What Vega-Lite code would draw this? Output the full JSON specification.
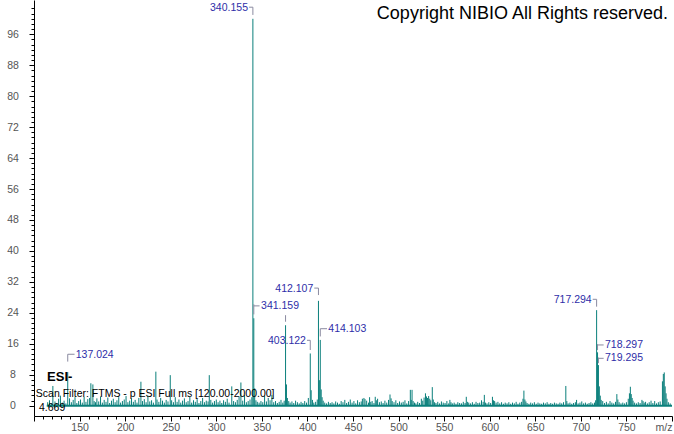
{
"$schema":"https://vega.github.io/schema/vega-lite/v6.json",
"width":638,"height":416,
"autosize":"none",
"padding":{"left":34,"top":0,"right":2,"bottom":18},
"config":{"view":{"stroke":null},"font":"Liberation Sans","axis":{"domainColor":"#000","tickColor":"#000","grid":false}},
"datasets":{
"spec":[
{"m":115,"v":0.9},{"m":117,"v":1.4},{"m":119,"v":0.6},{"m":120.7,"v":5.1},{"m":123,"v":1.1},{"m":125,"v":0.7},{"m":127,"v":1.8},{"m":129,"v":2.6},{"m":131,"v":0.8},{"m":133,"v":1.3},{"m":135,"v":0.6},{"m":137.024,"v":8.7},{"m":139,"v":1.9},{"m":141,"v":0.9},{"m":143,"v":1.5},{"m":145,"v":2.2},{"m":147,"v":0.7},{"m":149,"v":1.2},{"m":151,"v":1.6},{"m":153,"v":0.8},{"m":155,"v":2.3},{"m":157,"v":1.0},{"m":159,"v":1.7},{"m":161,"v":2.0},{"m":162.4,"v":5.8},{"m":164.6,"v":5.5},{"m":166,"v":1.2},{"m":167.5,"v":0.9},{"m":169,"v":1.9},{"m":171,"v":1.1},{"m":173,"v":2.4},{"m":175,"v":0.8},{"m":177,"v":1.5},{"m":179,"v":1.0},{"m":181,"v":2.1},{"m":183,"v":0.7},{"m":185,"v":1.3},{"m":187,"v":1.8},{"m":189,"v":0.9},{"m":191,"v":1.4},{"m":193,"v":2.2},{"m":195,"v":0.8},{"m":197,"v":1.2},{"m":199,"v":1.6},{"m":201,"v":2.5},{"m":203,"v":0.9},{"m":205,"v":1.3},{"m":207,"v":1.9},{"m":209,"v":1.0},{"m":211,"v":1.5},{"m":213,"v":0.8},{"m":215,"v":2.0},{"m":217.3,"v":6.2},{"m":219,"v":1.2},{"m":221,"v":1.7},{"m":223,"v":0.9},{"m":225,"v":2.6},{"m":227,"v":1.1},{"m":229,"v":1.4},{"m":231,"v":0.8},{"m":233.7,"v":8.8},{"m":235,"v":1.6},{"m":237,"v":1.0},{"m":239,"v":2.0},{"m":241,"v":1.3},{"m":243,"v":0.8},{"m":245,"v":1.5},{"m":247,"v":1.1},{"m":249.5,"v":7.9},{"m":251,"v":1.4},{"m":253,"v":0.9},{"m":255,"v":2.2},{"m":257,"v":1.0},{"m":259,"v":1.6},{"m":261,"v":0.8},{"m":263,"v":1.3},{"m":265,"v":1.9},{"m":267,"v":0.9},{"m":269,"v":1.2},{"m":271,"v":2.3},{"m":273,"v":0.8},{"m":275,"v":1.4},{"m":277,"v":1.0},{"m":279,"v":1.7},{"m":281,"v":0.7},{"m":283,"v":1.2},{"m":285,"v":2.0},{"m":287,"v":0.9},{"m":289,"v":1.3},{"m":291,"v":1.1},{"m":292.3,"v":7.9},{"m":294,"v":1.5},{"m":296,"v":0.8},{"m":298,"v":1.2},{"m":300,"v":1.6},{"m":302,"v":0.9},{"m":304,"v":1.3},{"m":306,"v":0.7},{"m":308,"v":1.4},{"m":310,"v":1.0},{"m":312,"v":1.8},{"m":314,"v":0.8},{"m":317,"v":5.0},{"m":319,"v":1.2},{"m":321,"v":0.9},{"m":323,"v":1.5},{"m":325,"v":2.4},{"m":327,"v":6.0},{"m":329,"v":1.3},{"m":331,"v":2.8},{"m":333,"v":0.9},{"m":335,"v":1.2},{"m":337,"v":1.6},{"m":339,"v":2.2},{"m":340.155,"v":100},{"m":341.159,"v":22.6},{"m":342.16,"v":4.5},{"m":343.5,"v":1.4},{"m":345,"v":1.0},{"m":347,"v":0.8},{"m":349,"v":1.2},{"m":351,"v":0.9},{"m":353,"v":2.6},{"m":355,"v":1.1},{"m":357,"v":2.0},{"m":359,"v":1.4},{"m":361,"v":2.8},{"m":363,"v":0.9},{"m":365,"v":1.2},{"m":367,"v":0.7},{"m":369,"v":1.0},{"m":371,"v":1.5},{"m":373,"v":0.8},{"m":374.5,"v":1.3},{"m":376.0,"v":20.8},{"m":377.0,"v":5.5},{"m":378,"v":2.0},{"m":379.5,"v":1.2},{"m":381,"v":0.8},{"m":383,"v":1.1},{"m":385,"v":0.7},{"m":387,"v":1.3},{"m":389,"v":0.9},{"m":391,"v":0.6},{"m":393,"v":1.0},{"m":395,"v":0.7},{"m":397,"v":1.2},{"m":399,"v":0.8},{"m":401,"v":2.0},{"m":403.122,"v":13.5},{"m":404.1,"v":4.0},{"m":405.5,"v":1.5},{"m":407,"v":0.8},{"m":409,"v":1.0},{"m":410.8,"v":1.6},{"m":412.107,"v":27.1},{"m":413.1,"v":6.6},{"m":414.103,"v":17.0},{"m":415.1,"v":4.2},{"m":416.1,"v":2.2},{"m":417.3,"v":1.3},{"m":419,"v":0.8},{"m":421,"v":0.6},{"m":423,"v":1.0},{"m":425,"v":0.7},{"m":427,"v":0.9},{"m":429,"v":0.6},{"m":431,"v":1.1},{"m":433,"v":0.8},{"m":435,"v":0.5},{"m":437,"v":1.2},{"m":439,"v":0.9},{"m":441,"v":1.5},{"m":443,"v":0.7},{"m":445,"v":1.0},{"m":447,"v":1.6},{"m":449,"v":0.8},{"m":451,"v":1.2},{"m":453,"v":0.6},{"m":455,"v":1.4},{"m":457,"v":0.9},{"m":459,"v":1.1},{"m":460.3,"v":1.8},{"m":462,"v":2.0},{"m":463.2,"v":1.7},{"m":465,"v":1.3},{"m":467,"v":0.8},{"m":468.2,"v":2.2},{"m":469.5,"v":1.0},{"m":471,"v":1.2},{"m":473,"v":0.7},{"m":474.4,"v":2.3},{"m":475.6,"v":1.4},{"m":477,"v":1.8},{"m":479,"v":0.9},{"m":481,"v":1.1},{"m":483,"v":0.7},{"m":485,"v":1.3},{"m":487,"v":0.8},{"m":489,"v":1.5},{"m":490.6,"v":2.9},{"m":491.8,"v":1.9},{"m":493,"v":1.2},{"m":495,"v":0.9},{"m":497,"v":1.4},{"m":499,"v":0.7},{"m":501,"v":1.1},{"m":503,"v":0.8},{"m":505,"v":1.0},{"m":507,"v":1.4},{"m":509,"v":0.6},{"m":511,"v":1.2},{"m":512.9,"v":4.1},{"m":513.9,"v":1.5},{"m":514.8,"v":4.1},{"m":516,"v":1.2},{"m":517.5,"v":0.8},{"m":519,"v":0.6},{"m":521,"v":1.0},{"m":523,"v":0.7},{"m":525,"v":1.8},{"m":526.5,"v":1.3},{"m":528,"v":2.1},{"m":529.5,"v":3.2},{"m":530.6,"v":2.4},{"m":531.7,"v":2.0},{"m":533,"v":2.5},{"m":534.2,"v":1.8},{"m":535.3,"v":1.4},{"m":537,"v":4.8},{"m":538.1,"v":1.6},{"m":539.5,"v":0.9},{"m":541,"v":0.7},{"m":543,"v":1.0},{"m":545,"v":0.6},{"m":547,"v":1.1},{"m":549,"v":0.8},{"m":551,"v":0.7},{"m":553,"v":1.2},{"m":555,"v":0.6},{"m":556.3,"v":1.5},{"m":557.5,"v":0.9},{"m":559,"v":0.6},{"m":561,"v":0.8},{"m":563,"v":0.5},{"m":565,"v":0.9},{"m":567,"v":0.7},{"m":569,"v":0.6},{"m":571,"v":1.0},{"m":573,"v":0.7},{"m":574.3,"v":2.3},{"m":575.5,"v":1.0},{"m":577,"v":0.8},{"m":579,"v":0.6},{"m":581,"v":0.9},{"m":583,"v":0.5},{"m":585,"v":1.0},{"m":587,"v":0.7},{"m":589,"v":0.8},{"m":591,"v":1.4},{"m":592.8,"v":1.0},{"m":594.1,"v":2.8},{"m":595.3,"v":0.8},{"m":597,"v":0.6},{"m":599,"v":0.9},{"m":601,"v":0.7},{"m":603,"v":2.3},{"m":604.2,"v":1.4},{"m":605.4,"v":1.2},{"m":607,"v":0.8},{"m":609,"v":1.0},{"m":611,"v":0.6},{"m":613,"v":0.9},{"m":615,"v":0.5},{"m":617,"v":0.8},{"m":619,"v":0.6},{"m":621,"v":0.9},{"m":623,"v":0.5},{"m":625,"v":0.8},{"m":627,"v":0.6},{"m":629,"v":1.0},{"m":631,"v":0.5},{"m":633,"v":0.8},{"m":635,"v":1.0},{"m":636.5,"v":1.8},{"m":637.5,"v":3.9},{"m":638.6,"v":1.6},{"m":639.7,"v":1.1},{"m":641,"v":0.7},{"m":643,"v":0.5},{"m":645,"v":0.8},{"m":647,"v":0.6},{"m":649,"v":0.9},{"m":651,"v":0.5},{"m":653,"v":0.8},{"m":655,"v":0.6},{"m":657,"v":0.5},{"m":659,"v":0.8},{"m":661,"v":0.6},{"m":663,"v":0.9},{"m":665,"v":0.5},{"m":667,"v":0.7},{"m":669,"v":0.5},{"m":671,"v":0.8},{"m":673,"v":0.6},{"m":675,"v":0.5},{"m":677,"v":0.8},{"m":679,"v":0.6},{"m":681,"v":0.9},{"m":683.5,"v":5.1},{"m":684.6,"v":1.2},{"m":686,"v":0.6},{"m":688,"v":0.8},{"m":690,"v":0.5},{"m":692,"v":0.7},{"m":694,"v":0.9},{"m":695.3,"v":1.5},{"m":697,"v":0.6},{"m":699,"v":0.8},{"m":701,"v":1.1},{"m":703,"v":0.6},{"m":705,"v":0.8},{"m":707,"v":0.5},{"m":709,"v":0.7},{"m":711,"v":0.9},{"m":713,"v":0.6},{"m":715,"v":0.8},{"m":716.2,"v":1.4},{"m":717.294,"v":24.7},{"m":718.297,"v":13.8},{"m":719.295,"v":10.5},{"m":720.3,"v":5.0},{"m":721.3,"v":2.6},{"m":722.3,"v":1.5},{"m":724,"v":1.2},{"m":726,"v":0.7},{"m":728,"v":1.0},{"m":730,"v":0.6},{"m":732,"v":1.2},{"m":734,"v":0.8},{"m":736,"v":0.6},{"m":738,"v":1.0},{"m":739.5,"v":3.0},{"m":740.6,"v":1.6},{"m":742,"v":0.9},{"m":744,"v":0.6},{"m":746,"v":0.8},{"m":748,"v":0.6},{"m":750,"v":0.9},{"m":752,"v":1.8},{"m":753.3,"v":3.2},{"m":754.3,"v":4.9},{"m":755.3,"v":3.0},{"m":756.3,"v":2.0},{"m":757.3,"v":1.3},{"m":759,"v":0.8},{"m":761,"v":0.6},{"m":763,"v":0.9},{"m":765,"v":0.7},{"m":767,"v":1.5},{"m":768.2,"v":1.2},{"m":769.5,"v":0.8},{"m":771,"v":1.0},{"m":773,"v":0.6},{"m":775,"v":0.9},{"m":777,"v":1.3},{"m":779,"v":0.7},{"m":781,"v":1.2},{"m":783,"v":0.6},{"m":785,"v":0.9},{"m":787,"v":1.1},{"m":789.5,"v":6.3},{"m":790.5,"v":8.2},{"m":791.5,"v":8.6},{"m":792.5,"v":5.0},{"m":793.5,"v":3.2},{"m":794.5,"v":1.8},{"m":796,"v":0.9},{"m":798,"v":0.6}
],
"texts":[
{"label":"340.155","m":334.8,"v":102.9,"side":"r"},
{"label":"341.159","m":349.1,"v":25.8,"side":"l"},
{"label":"403.122","m":398.4,"v":16.7,"side":"r"},
{"label":"412.107","m":406.4,"v":30.2,"side":"r"},
{"label":"414.103","m":422.9,"v":19.7,"side":"l"},
{"label":"137.024","m":145.8,"v":13.1,"side":"l"},
{"label":"717.294","m":711.9,"v":27.3,"side":"r"},
{"label":"718.297","m":726.5,"v":15.7,"side":"l"},
{"label":"719.295","m":726.5,"v":12.25,"side":"l"}
],
"hbr":[
{"m":340.155,"m2":336.0,"v":103.0},
{"m":341.159,"m2":347.5,"v":25.8},
{"m":403.122,"m2":399.5,"v":16.9},
{"m":412.107,"m2":407.5,"v":30.4},
{"m":414.103,"m2":421.5,"v":19.9},
{"m":137.024,"m2":144.5,"v":13.3},
{"m":717.294,"m2":713.0,"v":27.5},
{"m":718.297,"m2":725.0,"v":15.7},
{"m":719.295,"m2":725.0,"v":12.25}
],
"vbr":[
{"m":340.155,"v":103.0,"v2":101.0},
{"m":341.159,"v":26.2,"v2":23.6},
{"m":376.0,"v":23.4,"v2":21.7},
{"m":403.122,"v":16.9,"v2":14.4},
{"m":412.107,"v":30.4,"v2":28.6},
{"m":414.103,"v":19.9,"v2":17.9},
{"m":137.024,"v":13.3,"v2":11.4},
{"m":717.294,"v":27.5,"v2":25.6},
{"m":718.297,"v":15.9,"v2":14.4},
{"m":719.295,"v":12.45,"v2":11.0}
],
"notes":[
{"kind":"copy","text":"Copyright NIBIO All Rights reserved.","m":795.6,"v":101.2},
{"kind":"esi","text":"ESI-","m":114.3,"v":7.5},
{"kind":"small","text":"Scan Filter: FTMS - p ESI Full ms [120.00-2000.00]","m":102,"v":3.0},
{"kind":"small","text":"4.669","m":105.5,"v":-0.7}
],
"base":[{"m":114,"m2":800,"v":0}]
},
"encoding":{
  "x":{"field":"m","type":"quantitative","scale":{"domain":[100,800],"nice":false,"zero":false},
   "axis":{"title":null,"values":[100,110,120,130,140,150,160,170,180,190,200,210,220,230,240,250,260,270,280,290,300,310,320,330,340,350,360,370,380,390,400,410,420,430,440,450,460,470,480,490,500,510,520,530,540,550,560,570,580,590,600,610,620,630,640,650,660,670,680,690,700,710,720,730,740,750,760,770,780,790,800],
    "labelExpr":"datum.value === 800 ? 'm/z' : ((datum.value % 50 === 0 && datum.value > 100) ? datum.label : '')",
    "tickSize":{"condition":{"test":"datum.value % 50 === 0","value":5},"value":3},
    "labelFontSize":10.5,"labelColor":"#555","labelPadding":1.5,"labelOverlap":false,"labelFlush":true}},
  "y":{"field":"v","type":"quantitative","scale":{"domain":[-2.66,104.86],"nice":false,"zero":false},
   "axis":{"title":null,"values":[0,1.3333,2.6667,4,5.3333,6.6667,8,9.3333,10.6667,12,13.3333,14.6667,16,17.3333,18.6667,20,21.3333,22.6667,24,25.3333,26.6667,28,29.3333,30.6667,32,33.3333,34.6667,36,37.3333,38.6667,40,41.3333,42.6667,44,45.3333,46.6667,48,49.3333,50.6667,52,53.3333,54.6667,56,57.3333,58.6667,60,61.3333,62.6667,64,65.3333,66.6667,68,69.3333,70.6667,72,73.3333,74.6667,76,77.3333,78.6667,80,81.3333,82.6667,84,85.3333,86.6667,88,89.3333,90.6667,92,93.3333,94.6667,96,97.3333,98.6667,100,101.3333,102.6667],
    "labelExpr":"(datum.value % 8 === 0 && datum.value <= 96) ? format(datum.value, 'd') : ''",
    "tickSize":{"condition":{"test":"datum.value % 8 === 0","value":5},"value":3},
    "labelAlign":"center","labelPadding":16.5,"labelFontSize":10.5,"labelColor":"#555","labelOverlap":false,"labelFlush":false}}
},
"layer":[
{"data":{"name":"spec"},"mark":{"type":"rule","color":"#0a7f7b","strokeWidth":1},"encoding":{"y2":{"datum":0}}},
{"data":{"name":"base"},"mark":{"type":"rule","color":"#0a7f7b","strokeWidth":2},"encoding":{"x2":{"field":"m2"}}},
{"data":{"name":"hbr"},"mark":{"type":"rule","color":"#8a8aa0","strokeWidth":1},"encoding":{"x2":{"field":"m2"}}},
{"data":{"name":"vbr"},"mark":{"type":"rule","color":"#8a8aa0","strokeWidth":1},"encoding":{"y2":{"field":"v2"}}},
{"data":{"name":"texts"},"transform":[{"filter":"datum.side === 'r'"}],"mark":{"type":"text","align":"right","baseline":"middle","fontSize":10.5,"color":"#2e2ea8"},"encoding":{"text":{"field":"label"}}},
{"data":{"name":"texts"},"transform":[{"filter":"datum.side === 'l'"}],"mark":{"type":"text","align":"left","baseline":"middle","fontSize":10.5,"color":"#2e2ea8"},"encoding":{"text":{"field":"label"}}},
{"data":{"name":"notes"},"transform":[{"filter":"datum.kind === 'copy'"}],"mark":{"type":"text","align":"right","baseline":"middle","fontSize":18,"color":"#000"},"encoding":{"text":{"field":"text"}}},
{"data":{"name":"notes"},"transform":[{"filter":"datum.kind === 'esi'"}],"mark":{"type":"text","align":"left","baseline":"middle","fontSize":13,"fontWeight":"bold","color":"#000"},"encoding":{"text":{"field":"text"}}},
{"data":{"name":"notes"},"transform":[{"filter":"datum.kind === 'small'"}],"mark":{"type":"text","align":"left","baseline":"middle","fontSize":10.5,"color":"#000"},"encoding":{"text":{"field":"text"}}}
]
}
